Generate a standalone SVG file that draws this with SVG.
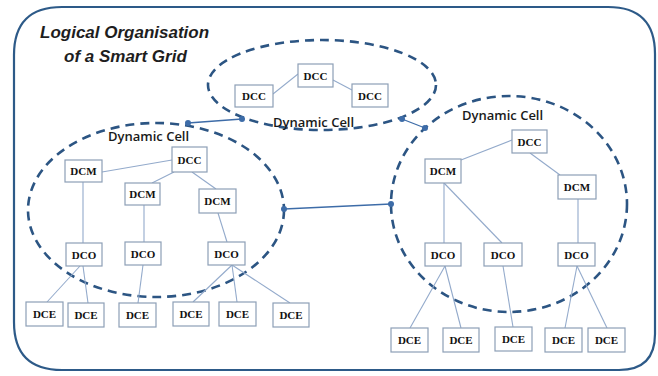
<svg xmlns="http://www.w3.org/2000/svg" width="658" height="376" viewBox="0 0 658 376">
<style>
.box rect{fill:#fff;stroke:#8d9fb6;stroke-width:1.2}
.box text{font-family:"Liberation Serif",serif;font-weight:bold;font-size:11px;fill:#111;text-anchor:middle}
.ln{stroke:#93aacb;stroke-width:1.1;fill:none}
.cell{fill:none;stroke:#2c5583;stroke-width:2.6;stroke-dasharray:9 6}
.lbl{font-family:"Open Sans",sans-serif;font-weight:600;font-size:13px;fill:#1a1a1a}
.link{stroke:#3d6ca8;stroke-width:1.3;fill:none}
.dot{fill:#3d6ca8}
</style>
<rect x="0" y="0" width="658" height="376" fill="#fff"/>
<g id="frame">
<path d="M62 7 H608 Q655 7 655 54 V334 Q655 370 619 370 H62 Q14 370 14 322 V55 Q14 7 62 7 Z" fill="none" stroke="#2d5a88" stroke-width="2.2"/>
</g>
<g id="title" font-family="Liberation Sans,Arial,sans-serif" font-weight="bold" font-style="italic" font-size="17" fill="#1e1e1e">
<text x="40" y="38">Logical Organisation</text>
<text x="64" y="62">of a Smart Grid</text>
</g>
<g id="cells">
<ellipse class="cell" cx="322" cy="85" rx="114" ry="45"/>
<ellipse class="cell" cx="156" cy="210" rx="128" ry="87"/>
<ellipse class="cell" cx="509" cy="204" rx="118" ry="108"/>
<text class="lbl" x="273" y="127">Dynamic Cell</text>
<text class="lbl" x="108" y="141">Dynamic Cell</text>
<text class="lbl" x="462" y="120">Dynamic Cell</text>
</g>
<g id="connectors">
<line class="link" x1="188" y1="123" x2="242" y2="119"/>
<line class="link" x1="402" y1="119" x2="425" y2="128"/>
<line class="link" x1="284" y1="209" x2="391" y2="204"/>
<circle class="dot" cx="188" cy="123" r="3"/>
<circle class="dot" cx="242" cy="119" r="3"/>
<circle class="dot" cx="402" cy="119" r="3"/>
<circle class="dot" cx="425" cy="128" r="3"/>
<circle class="dot" cx="284" cy="209" r="3"/>
<circle class="dot" cx="391" cy="204" r="3"/>
<!-- top cell -->
<line class="ln" x1="273" y1="94" x2="298" y2="74"/>
<line class="ln" x1="333" y1="80" x2="352" y2="90"/>
<!-- left cell -->
<line class="ln" x1="172" y1="160" x2="102" y2="172"/>
<line class="ln" x1="174" y1="172" x2="152" y2="183"/>
<line class="ln" x1="192" y1="172" x2="216" y2="189"/>
<line class="ln" x1="83" y1="182" x2="83" y2="243"/>
<line class="ln" x1="144" y1="205" x2="144" y2="242"/>
<line class="ln" x1="218" y1="213" x2="227" y2="242"/>
<line class="ln" x1="80" y1="266" x2="47" y2="302"/>
<line class="ln" x1="83" y1="266" x2="88" y2="303"/>
<line class="ln" x1="143" y1="265" x2="138" y2="303"/>
<line class="ln" x1="232" y1="265" x2="193" y2="302"/>
<line class="ln" x1="232" y1="265" x2="237" y2="302"/>
<line class="ln" x1="232" y1="265" x2="290" y2="303"/>
<!-- right cell -->
<line class="ln" x1="512" y1="140" x2="461" y2="160"/>
<line class="ln" x1="530" y1="153" x2="560" y2="175"/>
<line class="ln" x1="444" y1="183" x2="444" y2="243"/>
<line class="ln" x1="444" y1="183" x2="502" y2="243"/>
<line class="ln" x1="578" y1="199" x2="578" y2="243"/>
<line class="ln" x1="445" y1="266" x2="410" y2="328"/>
<line class="ln" x1="445" y1="266" x2="461" y2="328"/>
<line class="ln" x1="503" y1="266" x2="513" y2="327"/>
<line class="ln" x1="577" y1="266" x2="565" y2="328"/>
<line class="ln" x1="577" y1="266" x2="607" y2="328"/>
</g>
<!-- top cell nodes -->
<g id="t-dcc1" class="box"><rect x="298" y="64" width="35" height="23"/><text x="315.5" y="79.5">DCC</text></g>
<g id="t-dcc2" class="box"><rect x="235" y="85" width="38" height="22"/><text x="254" y="100">DCC</text></g>
<g id="t-dcc3" class="box"><rect x="352" y="84" width="36" height="23"/><text x="370" y="99.5">DCC</text></g>
<!-- left cell nodes -->
<g id="l-dcc" class="box"><rect x="172" y="147" width="35" height="25"/><text x="189.5" y="163.5">DCC</text></g>
<g id="l-dcm1" class="box"><rect x="65" y="160" width="37" height="22"/><text x="83.5" y="175">DCM</text></g>
<g id="l-dcm2" class="box"><rect x="125" y="183" width="35" height="22"/><text x="142.5" y="198">DCM</text></g>
<g id="l-dcm3" class="box"><rect x="199" y="189" width="37" height="24"/><text x="217.5" y="205">DCM</text></g>
<g id="l-dco1" class="box"><rect x="66" y="243" width="36" height="23"/><text x="84" y="258.5">DCO</text></g>
<g id="l-dco2" class="box"><rect x="125" y="242" width="36" height="23"/><text x="143" y="257.5">DCO</text></g>
<g id="l-dco3" class="box"><rect x="208" y="242" width="37" height="23"/><text x="226.5" y="257.5">DCO</text></g>
<g id="l-dce1" class="box"><rect x="26" y="302" width="37" height="24"/><text x="44.5" y="318">DCE</text></g>
<g id="l-dce2" class="box"><rect x="68" y="303" width="36" height="24"/><text x="86" y="319">DCE</text></g>
<g id="l-dce3" class="box"><rect x="119" y="303" width="37" height="24"/><text x="137.5" y="319">DCE</text></g>
<g id="l-dce4" class="box"><rect x="173" y="302" width="36" height="24"/><text x="191" y="318">DCE</text></g>
<g id="l-dce5" class="box"><rect x="219" y="302" width="37" height="24"/><text x="237.5" y="318">DCE</text></g>
<g id="l-dce6" class="box"><rect x="273" y="303" width="36" height="24"/><text x="291" y="319">DCE</text></g>
<!-- right cell nodes -->
<g id="r-dcc" class="box"><rect x="512" y="130" width="35" height="23"/><text x="529.5" y="145.5">DCC</text></g>
<g id="r-dcm1" class="box"><rect x="425" y="159" width="36" height="24"/><text x="443" y="175">DCM</text></g>
<g id="r-dcm2" class="box"><rect x="558" y="175" width="38" height="24"/><text x="577" y="191">DCM</text></g>
<g id="r-dco1" class="box"><rect x="425" y="243" width="36" height="23"/><text x="443" y="258.5">DCO</text></g>
<g id="r-dco2" class="box"><rect x="484" y="243" width="38" height="23"/><text x="503" y="258.5">DCO</text></g>
<g id="r-dco3" class="box"><rect x="558" y="243" width="37" height="23"/><text x="576.5" y="258.5">DCO</text></g>
<g id="r-dce1" class="box"><rect x="391" y="328" width="37" height="24"/><text x="409.5" y="344">DCE</text></g>
<g id="r-dce2" class="box"><rect x="443" y="328" width="36" height="24"/><text x="461" y="344">DCE</text></g>
<g id="r-dce3" class="box"><rect x="495" y="327" width="37" height="24"/><text x="513.5" y="343">DCE</text></g>
<g id="r-dce4" class="box"><rect x="545" y="328" width="37" height="24"/><text x="563.5" y="344">DCE</text></g>
<g id="r-dce5" class="box"><rect x="588" y="328" width="37" height="24"/><text x="606.5" y="344">DCE</text></g>
</svg>
